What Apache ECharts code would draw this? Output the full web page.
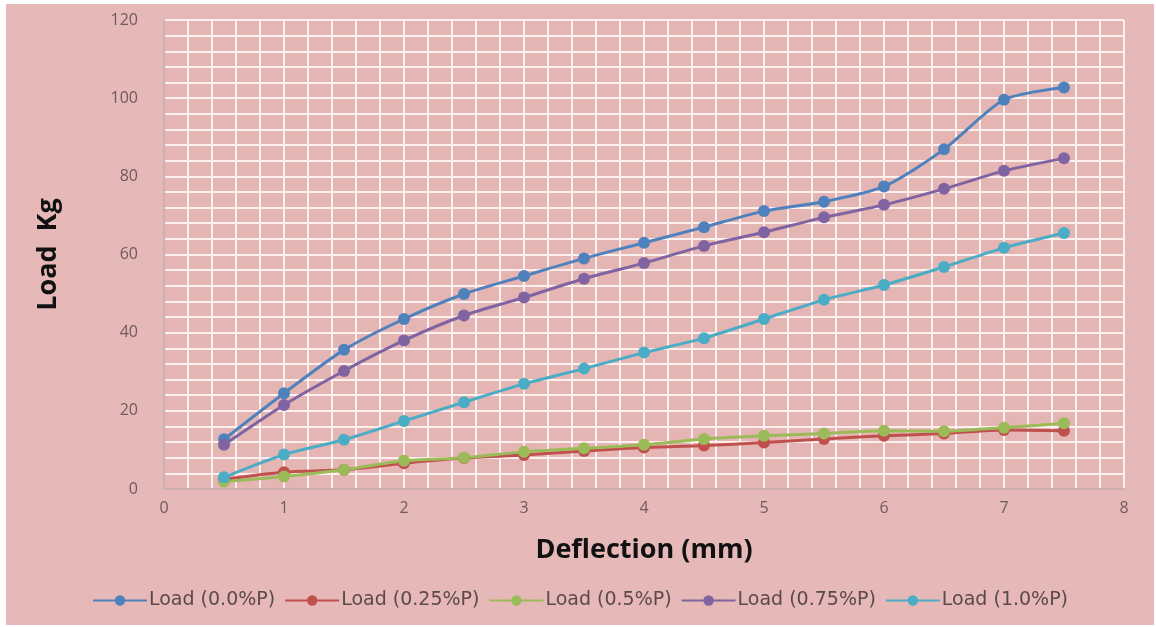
<!DOCTYPE html>
<html>
<head>
<meta charset="utf-8">
<script src="https://cdn.jsdelivr.net/npm/echarts@6/dist/echarts.min.js"></script>
<style>
html,body{margin:0;padding:0;background:#ffffff;width:1156px;height:627px;overflow:hidden;}
#chart{position:absolute;left:6px;top:4px;width:1148px;height:621px;}
</style>
</head>
<body>
<div id="chart"></div>
<script>
const deflection = [0.5,1,1.5,2,2.5,3,3.5,4,4.5,5,5.5,6,6.5,7,7.5];
const seriesNames = ['Load (0.0%P)','Load (0.25%P)','Load (0.5%P)','Load (0.75%P)','Load (1.0%P)'];
const load00  = [12.7,24.5,35.6,43.5,49.9,54.5,59.0,63.0,67.0,71.1,73.5,77.4,86.9,99.6,102.7];
const load025 = [2.5,4.3,4.9,6.6,7.9,8.7,9.7,10.6,11.1,11.9,12.8,13.6,14.2,15.1,14.9];
const load05  = [1.9,3.2,4.9,7.2,8.0,9.5,10.4,11.3,12.8,13.6,14.2,14.9,14.8,15.7,16.8];
const load075 = [11.3,21.5,30.2,38.0,44.4,49.0,53.8,57.8,62.2,65.7,69.5,72.7,76.8,81.4,84.6];
const load10  = [3.0,8.8,12.6,17.4,22.2,26.9,30.8,34.9,38.6,43.5,48.4,52.2,56.8,61.7,65.5];
const colors = ['#4F81BD','#C0504D','#9BBB59','#8064A2','#4BACC6'];
const allLoads = [load00, load025, load05, load075, load10];

const chart = echarts.init(document.getElementById('chart'));
const labelColor = '#6f5b5b';
const gridWhite = '#fcf0ee';
chart.setOption({
  backgroundColor: '#e6b8b7',
  animation: false,
  grid: {left: 158, top: 16, width: 960, height: 469, show: true, backgroundColor: '#e4b5b3', borderWidth: 0},
  legend: {
    bottom: 10, left: 'center',
    itemWidth: 54, itemHeight: 13, itemGap: 9,
    textStyle: {fontFamily: 'DejaVu Sans', fontSize: 19, color: '#5a4a4a', padding: [0,0,0,-3]},
    data: seriesNames
  },
  xAxis: {
    type: 'value', min: 0, max: 8, interval: 1,
    name: 'Deflection (mm)', nameLocation: 'middle', nameGap: 48,
    nameTextStyle: {fontFamily: 'Open Sans', fontWeight: 'bold', fontSize: 27, color: '#111'},
    axisLine: {show: true, lineStyle: {color: '#cdb1b0', width: 2}},
    axisTick: {show: false},
    axisLabel: {color: labelColor, fontFamily: 'Open Sans', fontSize: 16, margin: 11},
    splitLine: {show: true, lineStyle: {color: gridWhite, width: 2}},
    minorTick: {show: false, splitNumber: 5},
    minorSplitLine: {show: true, lineStyle: {color: gridWhite, width: 2}}
  },
  yAxis: {
    type: 'value', min: 0, max: 120, interval: 20,
    name: 'Load  Kg', nameLocation: 'middle', nameGap: 102,
    nameTextStyle: {fontFamily: 'Open Sans', fontWeight: 'bold', fontSize: 27, color: '#111'},
    axisLine: {show: true, lineStyle: {color: '#cdb1b0', width: 2}},
    axisTick: {show: false},
    axisLabel: {color: labelColor, fontFamily: 'Open Sans', fontSize: 16, margin: 26},
    splitLine: {show: true, lineStyle: {color: gridWhite, width: 2}},
    minorTick: {show: false, splitNumber: 5},
    minorSplitLine: {show: true, lineStyle: {color: gridWhite, width: 2}}
  },
  series: allLoads.map((arr,i)=>({
    name: seriesNames[i], type: 'line', smooth: 0.25,
    data: deflection.map((x,j)=>[x, arr[j]]),
    symbol: 'circle', symbolSize: 12,
    itemStyle: {color: colors[i]},
    lineStyle: {color: colors[i], width: 3}
  }))
});
</script>
</body>
</html>
